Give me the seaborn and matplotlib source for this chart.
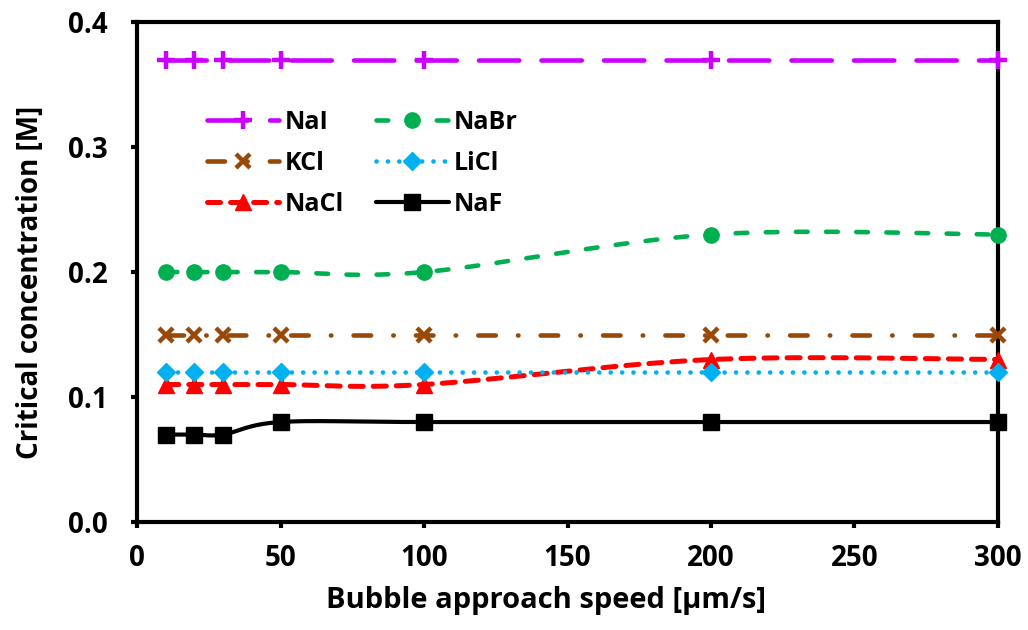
import numpy as np
import pandas as pd
import matplotlib
matplotlib.use("Agg")
import matplotlib.pyplot as plt
from matplotlib.lines import Line2D
from matplotlib.ticker import FormatStrFormatter
import seaborn as sns

# *** data ***
speed = [10, 20, 30, 50, 100, 200, 300]
nai = [0.37, 0.37, 0.37, 0.37, 0.37, 0.37, 0.37]
nabr = [0.20, 0.20, 0.20, 0.20, 0.20, 0.23, 0.23]
kcl = [0.15, 0.15, 0.15, 0.15, 0.15, 0.15, 0.15]
licl = [0.12, 0.12, 0.12, 0.12, 0.12, 0.12, 0.12]
nacl = [0.11, 0.11, 0.11, 0.11, 0.11, 0.13, 0.13]
naf = [0.07, 0.07, 0.07, 0.08, 0.08, 0.08, 0.08]

series = [
    # name, values, colour, dashes (pt), marker, marker size, linewidth
    ("NaI", nai, "#CC00FF", (29, 16), "+", 13, 3.3),
    ("KCl", kcl, "#984807", (12.6, 16, 0.3, 16), "x", 10, 3.3),
    ("NaCl", nacl, "#FF0000", (9.4, 7.2), "^", 11, 3.6),
    ("NaBr", nabr, "#00B050", (8.4, 13.3), "o", 11, 3.3),
    ("LiCl", licl, "#00B0F0", (0.1, 8.1), "D", 9, 3.3),
    ("NaF", naf, "#000000", None, "s", 12, 3.0),
]


def smooth(x, y, n=40):
    # Catmull-Rom curve through the points (like Excel's smoothed line)
    p = np.column_stack([x, y]).astype(float)
    p = np.vstack([p[0], p, p[-1]])
    out = []
    t = np.linspace(0, 1, n)[:, None]
    for i in range(1, len(p) - 2):
        p0, p1, p2, p3 = p[i - 1], p[i], p[i + 1], p[i + 2]
        c1 = p1 + (p2 - p0) / 6
        c2 = p2 - (p3 - p1) / 6
        seg = ((1 - t) ** 3) * p1 + 3 * ((1 - t) ** 2) * t * c1 + 3 * (1 - t) * t ** 2 * c2 + t ** 3 * p2
        out.append(seg if i == 1 else seg[1:])
    out = np.vstack(out)
    return out[:, 0], out[:, 1]


sns.set_style("white")
plt.rcParams["font.family"] = ["Open Sans", "DejaVu Sans"]
plt.rcParams["font.weight"] = "bold"
plt.rcParams["lines.scale_dashes"] = False
for key in ["text.color", "axes.labelcolor", "xtick.color", "ytick.color"]:
    plt.rcParams[key] = "black"

fig = plt.figure(figsize=(10.28, 6.3), dpi=100)
ax = fig.add_axes([0.1333, 0.1714, 0.8375, 0.7936])

handles = []
for name, vals, color, dashes, marker, ms, lw in series:
    sx, sy = smooth(speed, vals)
    curve = pd.DataFrame({"x": sx, "y": sy})
    sns.lineplot(data=curve, x="x", y="y", sort=False, ax=ax, color=color,
                 linewidth=lw, zorder=2, estimator=None)
    line = ax.lines[-1]
    if dashes is not None:
        line.set_dashes(dashes)
    line.set_dash_capstyle("round")
    line.set_solid_capstyle("round")
    mew = 3.2 if marker in ("+", "x") else 1
    ax.plot(speed, vals, linestyle="none", marker=marker, markersize=ms,
            color=color, markeredgewidth=mew, zorder=3, clip_on=False)
    h = Line2D([], [], color=color, linewidth=lw, marker=marker, markersize=ms,
               markeredgewidth=mew, dash_capstyle="round")
    if dashes is not None:
        h.set_dashes(dashes)
    handles.append(h)

ax.set_xlim(0, 300)
ax.set_ylim(0, 0.4)
ax.set_xticks(range(0, 301, 50))
ax.set_yticks([0.0, 0.1, 0.2, 0.3, 0.4])
ax.yaxis.set_major_formatter(FormatStrFormatter("%.1f"))

for s in ax.spines.values():
    s.set_linewidth(3)
    s.set_color("black")
ax.tick_params(axis="both", direction="out", length=4, width=3, labelsize=20,
               bottom=True, left=True)
ax.tick_params(axis="x", pad=12)
ax.tick_params(axis="y", pad=17)
for lab in ax.get_xticklabels() + ax.get_yticklabels():
    lab.set_fontweight("bold")

ax.set_xlabel("Bubble approach speed [µm/s]", fontsize=21, fontweight="bold")
ax.set_ylabel("Critical concentration [M]", fontsize=20, fontweight="bold")
ax.xaxis.set_label_coords(0.475, -0.128)
ax.yaxis.set_label_coords(-0.107, 0.48)

ax.legend(handles, [s[0] for s in series], ncol=2, frameon=False,
          loc="upper left", bbox_to_anchor=(0.081, 0.825), borderaxespad=0, borderpad=0,
          handlelength=2.9, handletextpad=0.2, columnspacing=1.3, labelspacing=0.65,
          prop={"weight": "bold", "size": 18})

fig.savefig("out.png", dpi=100)
